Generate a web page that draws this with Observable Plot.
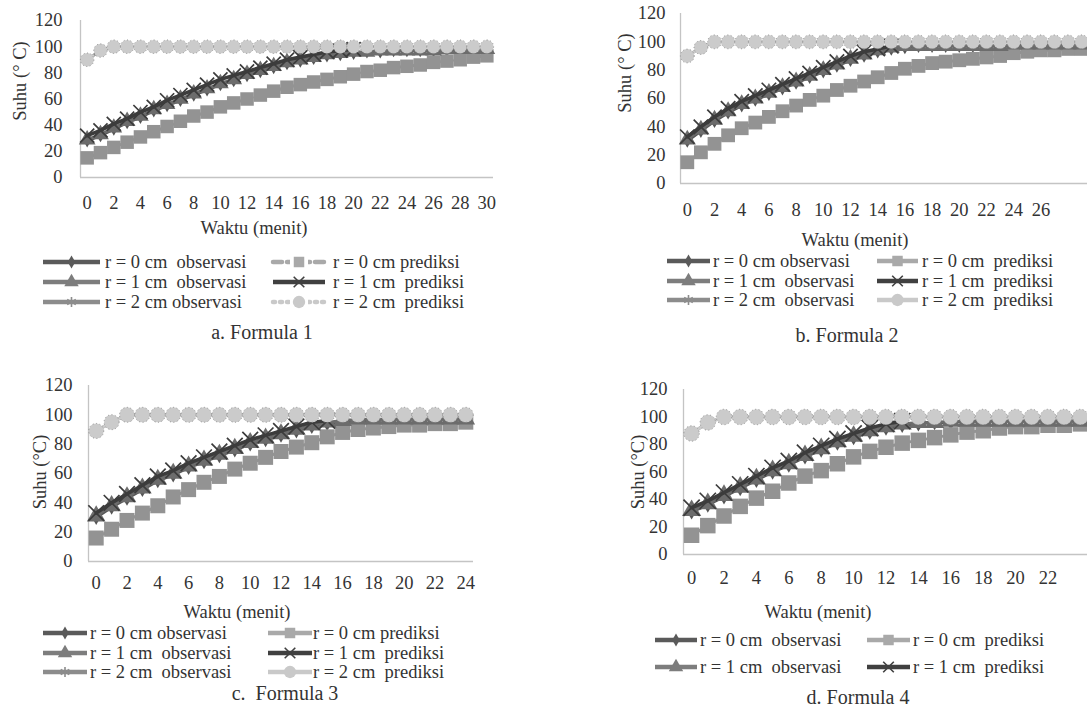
<!DOCTYPE html>
<html><head><meta charset="utf-8">
<script src="https://cdn.jsdelivr.net/npm/d3@7"></script>
<script src="https://cdn.jsdelivr.net/npm/@observablehq/plot@0.6"></script>
<style>
html,body{margin:0;padding:0;background:#fff;}
#root{position:relative;width:1087px;height:717px;overflow:hidden;font-family:'Liberation Serif','Tinos','DejaVu Serif','Times New Roman',serif;color:#333;}
.abs{position:absolute;white-space:pre;line-height:1;}
</style></head><body><div id="root"></div>
<script>
// ---------- data ----------
const timesA = [0,1,2,3,4,5,6,7,8,9,10,11,12,13,14,15,16,17,18,19,20,21,22,23,24,25,26,27,28,29,30];
const timesB = [0,1,2,3,4,5,6,7,8,9,10,11,12,13,14,15,16,17,18,19,20,21,22,23,24,25,26,27,28,29,30];
const timesC = [0,1,2,3,4,5,6,7,8,9,10,11,12,13,14,15,16,17,18,19,20,21,22,23,24];
const timesD = [0,1,2,3,4,5,6,7,8,9,10,11,12,13,14,15,16,17,18,19,20,21,22,23,24];
const ticksA = [0,2,4,6,8,10,12,14,16,18,20,22,24,26,28,30];
const ticksB = [0,2,4,6,8,10,12,14,16,18,20,22,24,26];
const ticksC = [0,2,4,6,8,10,12,14,16,18,20,22,24];
const ticksD = [0,2,4,6,8,10,12,14,16,18,20,22];
const ticksY = [0,20,40,60,80,100,120];

// Formula 1
const a_r0obs  = [28,32,37,42,46,51,55,59,63,67,71,74,78,81,84,87,89,91,93,94,95,96,96,97,97,97,97,97,98,98,98];
const a_r0pred = [15,19,23,27,31,35,39,43,47,50,54,57,60,63,66,69,71,73,75,77,79,81,82,84,85,86,88,89,90,92,93];
const a_r1obs  = [29,33,38,43,47,52,56,60,64,68,72,75,79,82,85,88,90,92,94,95,96,96,97,97,97,97,97,98,98,98,98];
const a_r1pred = [32,36,41,45,50,54,59,63,67,71,75,78,81,84,87,90,92,94,96,97,98];
const a_r2obs  = [90,97,100,100,100,100,100,100,100,100,100,100,100,100,100,100,100,100,100,100,100,100,100,100,100,100,100,100,100,100,100];
const a_r2pred = [90,97,100,100,100,100,100,100,100,100,100,100,100,100,100,100,100,100,100,100,100,100,100,100,100,100,100,100,100,100,100];
// Formula 2
const b_r0obs  = [30,37,44,50,55,59,63,67,71,75,79,83,87,90,93,95,96,97,97,97,97,97,97,97,97,97,98,98,98,98,98];
const b_r0pred = [15,22,28,34,39,43,47,51,55,59,62,66,69,72,75,78,81,83,85,86,87,88,89,90,92,93,94,94,95,95,96];
const b_r1obs  = [31,38,45,51,56,60,64,68,72,76,80,84,88,91,94,96,97,97,97,97,97,97,97,97,98,98,98,98,98,98,98];
const b_r1pred = [33,40,47,53,58,62,66,70,74,78,82,86,90,93,95,97];
const b_r2obs  = [90,96,100,100,100,100,100,100,100,100,100,100,100,100,100,100,100,100,100,100,100,100,100,100,100,100,100,100,100,100,100];
const b_r2pred = [90,96,100,100,100,100,100,100,100,100,100,100,100,100,100,100,100,100,100,100,100,100,100,100,100,100,100,100,100,100,100];
// Formula 3
const c_r0obs  = [30,37,43,49,55,59,64,68,72,76,80,83,86,89,92,94,95,96,96,97,97,97,97,97,97];
const c_r0pred = [16,22,28,33,38,44,49,54,58,63,67,71,75,78,81,85,88,90,91,92,93,93,94,94,95];
const c_r1obs  = [31,38,44,50,56,60,65,69,73,77,81,84,87,90,93,95,96,97,97,97,97,97,97,97,97];
const c_r1pred = [33,40,46,52,58,62,67,71,75,79,83,86,89,92,95,96];
const c_r2obs  = [89,95,100,100,100,100,100,100,100,100,100,100,100,100,100,100,100,100,100,100,100,100,100,100,100];
const c_r2pred = [89,95,100,100,100,100,100,100,100,100,100,100,100,100,100,100,100,100,100,100,100,100,100,100,100];
// Formula 4
const d_r0obs  = [31,36,42,48,54,60,65,71,76,81,85,89,92,94,95,96,96,97,97,97,97,97,97,97,97];
const d_r0pred = [14,21,28,35,41,46,52,57,61,66,71,75,78,81,83,85,87,89,90,92,93,93,94,94,95];
const d_r1obs  = [32,37,43,49,55,61,66,72,77,82,86,90,93,95,96,96,97,97,97,97,97,97,97,97,97];
const d_r1pred = [34,39,45,51,57,63,68,74,79,84,88,92,95,97];
const d_r2obs  = [88,96,100,100,100,100,100,100,100,100,100,100,100,100,100,100,100,100,100,100,100,100,100,100,100];
const d_r2pred = [88,96,100,100,100,100,100,100,100,100,100,100,100,100,100,100,100,100,100,100,100,100,100,100,100];

const legendA = ["r = 0 cm  observasi","r = 1 cm  observasi","r = 2 cm observasi","r = 0 cm prediksi","r = 1 cm  prediksi","r = 2 cm  prediksi"];
const legendB = ["r = 0 cm observasi","r = 1 cm  observasi","r = 2 cm  observasi","r = 0 cm  prediksi","r = 1 cm  prediksi","r = 2 cm  prediksi"];
const legendC = ["r = 0 cm observasi","r = 1 cm  observasi","r = 2 cm  observasi","r = 0 cm prediksi","r = 1 cm  prediksi","r = 2 cm  prediksi"];
const legendD = ["r = 0 cm  observasi","r = 1 cm  observasi","r = 0 cm  prediksi","r = 1 cm  prediksi"];
const captions = ["a. Formula 1","b. Formula 2","c.  Formula 3","d. Formula 4"];
const xTitle = "Waktu (menit)";
const yTitles = ["Suhu (° C)","Suhu (° C)","Suhu (°C)","Suhu (°C)"];

// ---------- styling ----------
const chartColor = {r0obs:"#555555", r0pred:"#939393", r1obs:"#6c6c6c", r1pred:"#3c3c3c", r2obs:"#888888", r2pred:"#cbcbcb"};
const legColor   = {r0obs:"#5a5a5a", r0pred:"#a9a9a9", r1obs:"#7d7d7d", r1pred:"#404040", r2obs:"#8c8c8c", r2pred:"#c9c9c9"};
const symOf = {r0obs:"diamond", r0pred:"square", r1obs:"triangle", r1pred:"times", r2obs:"asterisk", r2pred:"circle"};
const FONT = "'Liberation Serif','Tinos','DejaVu Serif','Times New Roman',serif";

const panels = [
  {left:0, top:0, x0:80, x1:493, domain:[-0.5,30.5], y0:177, y120:20, svgH:215, padX:18, padY:18,
   times:timesA, ticksX:ticksA, msz:13.5, dashed:true,
   S:{r0obs:a_r0obs,r0pred:a_r0pred,r1obs:a_r1obs,r1pred:a_r1pred,r2obs:a_r2obs,r2pred:a_r2pred},
   yTitle:[20,81], xTitleC:[254,228], caption:[262,332],
   legend:{labels:legendA, keys:["r0obs","r1obs","r2obs","r0pred","r1pred","r2pred"], rows:[262,282,302], cols:[[43,100,105],[273,325,333]], perCol:3}},
  {left:540, top:0, x0:680, x1:1101.6, domain:[-0.5,30.5], y0:183, y120:13, svgH:230, padX:19, padY:15,
   times:timesB, ticksX:ticksB, msz:13.8, dashed:false,
   S:{r0obs:b_r0obs,r0pred:b_r0pred,r1obs:b_r1obs,r1pred:b_r1pred,r2obs:b_r2obs,r2pred:b_r2pred},
   yTitle:[625,73], xTitleC:[855,240], caption:[847,335],
   legend:{labels:legendB, keys:["r0obs","r1obs","r2obs","r0pred","r1pred","r2pred"], rows:[261,281,300], cols:[[667,710,713],[877,918,922]], perCol:3}},
  {left:0, top:360, x0:88, x1:473, domain:[-0.5,24.5], y0:561, y120:385, svgH:240, padX:14, padY:16,
   times:timesC, ticksX:ticksC, msz:15, dashed:false,
   S:{r0obs:c_r0obs,r0pred:c_r0pred,r1obs:c_r1obs,r1pred:c_r1pred,r2obs:c_r2obs,r2pred:c_r2pred},
   yTitle:[40,472], xTitleC:[237,612], caption:[285,693],
   legend:{labels:legendC, keys:["r0obs","r1obs","r2obs","r0pred","r1pred","r2pred"], rows:[633,653,672], cols:[[43,87,90],[268,312,313]], perCol:3}},
  {left:540, top:360, x0:683, x1:1088, domain:[-0.5,24.5], y0:554, y120:389, svgH:240, padX:16, padY:16,
   times:timesD, ticksX:ticksD, msz:15.5, dashed:false,
   S:{r0obs:d_r0obs,r0pred:d_r0pred,r1obs:d_r1obs,r1pred:d_r1pred,r2obs:d_r2obs,r2pred:d_r2pred},
   yTitle:[638,472], xTitleC:[818,612], caption:[858,697],
   legend:{labels:legendD, keys:["r0obs","r1obs","r0pred","r1pred"], rows:[640,667], cols:[[655,697,700],[867,910,913]], perCol:2}}
];

const root = document.getElementById("root");

function addText(txt, x, y, opts={}) {
  const el = document.createElement("div");
  el.className = "abs";
  el.textContent = txt;
  el.style.fontSize = (opts.size || 18.5) + "px";
  el.style.left = x + "px";
  el.style.top = y + "px";
  const tx = opts.anchor === "start" ? "0" : "-50%";
  el.style.transform = `translate(${tx},-50%)`;
  if (opts.rotate) { el.style.transformOrigin = "0 0"; el.style.transform = "rotate(-90deg) translate(-50%,-50%)"; }
  root.appendChild(el);
  return el;
}

function drawPanel(p, idx) {
  const L = p.left, Tp = p.top, mR = 4;
  const W = (p.x1 - L) + mR;
  const rows = k => p.S[k].map((y,i) => ({t: p.times[i], y}));
  const s = p.msz;
  const marks = [
    Plot.ruleY([0], {stroke:"#c4c4c4", strokeWidth:1.3}),
    Plot.ruleX([p.domain[0]], {y1:0, y2:120, stroke:"#c4c4c4", strokeWidth:1.3}),
    Plot.axisX({ticks:p.ticksX, tickSize:0, tickPadding:p.padX, label:null, tickFormat:d => String(d), fontFamily:FONT}),
    Plot.axisY({ticks:ticksY, tickSize:0, tickPadding:p.padY, label:null, tickFormat:d => String(d), fontFamily:FONT}),
    // r = 0 cm observasi
    Plot.line(rows("r0obs"), {x:"t", y:"y", stroke:chartColor.r0obs, strokeWidth:3}),
    Plot.dot(rows("r0obs"), {x:"t", y:"y", symbol:"diamond", r:s*0.3, fill:chartColor.r0obs}),
    // r = 0 cm prediksi
    Plot.line(rows("r0pred"), {x:"t", y:"y", stroke:chartColor.r0pred, strokeWidth:3, strokeDasharray:p.dashed ? "8,4" : null}),
    Plot.dot(rows("r0pred"), {x:"t", y:"y", symbol:"square", r:s/1.772, fill:chartColor.r0pred}),
    // r = 1 cm observasi
    Plot.line(rows("r1obs"), {x:"t", y:"y", stroke:chartColor.r1obs, strokeWidth:3}),
    Plot.dot(rows("r1obs"), {x:"t", y:"y", symbol:"triangle", r:s*0.46, fill:chartColor.r1obs}),
    // r = 1 cm prediksi
    Plot.line(rows("r1pred"), {x:"t", y:"y", stroke:chartColor.r1pred, strokeWidth:3.6}),
    Plot.dot(rows("r1pred"), {x:"t", y:"y", symbol:"times", r:s*0.48, stroke:chartColor.r1pred, strokeWidth:1.7, fill:"none"}),
    // r = 2 cm observasi
    Plot.line(rows("r2obs"), {x:"t", y:"y", stroke:chartColor.r2obs, strokeWidth:3}),
    Plot.dot(rows("r2obs"), {x:"t", y:"y", symbol:"asterisk", r:s*0.3, stroke:chartColor.r2obs, fill:"none"}),
    // r = 2 cm prediksi
    Plot.line(rows("r2pred"), {x:"t", y:"y", stroke:chartColor.r2pred, strokeWidth:3, strokeDasharray:p.dashed ? "1.5,4" : null, strokeLinecap:"round"}),
    Plot.dot(rows("r2pred"), {x:"t", y:"y", symbol:"circle", r:s/2, fill:chartColor.r2pred, stroke:"#8a8a8a", strokeWidth:0.9, strokeDasharray:"1,2.5"})
  ];
  const svg = Plot.plot({
    width: W, height: p.svgH,
    marginLeft: p.x0 - L, marginRight: mR,
    marginTop: p.y120 - Tp, marginBottom: p.svgH - (p.y0 - Tp),
    x: {type:"linear", domain:p.domain},
    y: {type:"linear", domain:[0,120]},
    style: {fontFamily:FONT, fontSize:"18.5px", color:"#333", background:"transparent", overflow:"visible"},
    marks
  });
  svg.style.position = "absolute";
  svg.style.left = L + "px";
  svg.style.top = Tp + "px";
  svg.style.maxWidth = "none";
  svg.style.fontFamily = FONT;
  root.appendChild(svg);

  addText(yTitles[idx], p.yTitle[0], p.yTitle[1], {size:18.5, rotate:true});
  addText(xTitle, p.xTitleC[0], p.xTitleC[1], {size:18.5});
  addText(captions[idx], p.caption[0], p.caption[1], {size:20});

  const lg = p.legend;
  const typeMap = {diamond:d3.symbolDiamond, square:d3.symbolSquare, triangle:d3.symbolTriangle, times:d3.symbolTimes, asterisk:d3.symbolAsterisk, circle:d3.symbolCircle};
  lg.keys.forEach((k, i) => {
    const col = Math.floor(i / lg.perCol), row = i % lg.perCol;
    const [sx0, sx1, tx] = lg.cols[col];
    const cy = lg.rows[row];
    const w = sx1 - sx0;
    const sw = d3.create("svg").attr("width", w).attr("height", 16)
      .style("position","absolute").style("left", sx0 + "px").style("top", (cy - 8) + "px").style("overflow","visible");
    let dash = null;
    if (p.dashed && k === "r0pred") dash = "9,5";
    if (p.dashed && k === "r2pred") dash = "2,5";
    sw.append("line").attr("x1",0).attr("x2",w).attr("y1",8).attr("y2",8)
      .attr("stroke", legColor[k]).attr("stroke-width",4.5)
      .attr("stroke-dasharray", dash).attr("stroke-linecap", dash ? "round" : "butt");
    const stroked = (k === "r1pred" || k === "r2obs");
    const size = {r0obs:50, r0pred:110, r1obs:90, r1pred:75, r2obs:70, r2pred:120}[k];
    if (p.dashed && (k==="r0pred"||k==="r2pred")) {
      sw.append("rect").attr("x", w/2-9).attr("y",1).attr("width",18).attr("height",14).attr("fill","#fff");
    }
    sw.append("path").attr("d", d3.symbol(typeMap[symOf[k]], size)())
      .attr("transform", `translate(${w/2},8)`)
      .attr("fill", stroked ? "none" : legColor[k])
      .attr("stroke", stroked ? legColor[k] : "none").attr("stroke-width", 1.6);
    root.appendChild(sw.node());
    addText(lg.labels[i], tx, cy, {size:18.5, anchor:"start"});
  });
}

panels.forEach(drawPanel);
</script></body></html>
